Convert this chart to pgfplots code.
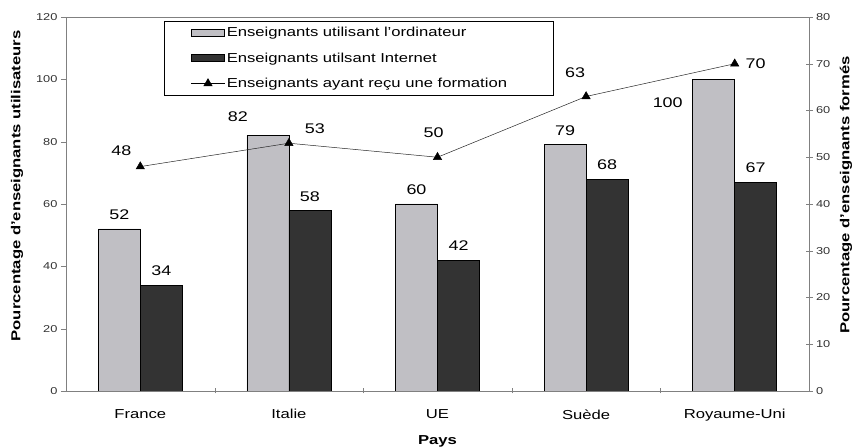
\documentclass[border=0pt]{standalone}
\usepackage{fontspec}
\setmainfont[FakeStretch=1.28]{Liberation Sans}
\usepackage{pgfplots}
\pgfplotsset{compat=1.18}
\usepackage{pgfplotstable}
\usetikzlibrary{calc}
\definecolor{cOrdi}{HTML}{C0BFC4}
\definecolor{cNet}{HTML}{333333}
\definecolor{cAxis}{HTML}{808080}

% x, value, label offset (dx, dy) in pt
\pgfplotstableread{
x y dx dy
0 52 0 14
1 82 -30 19
2 60 0 14
3 79 0 14
4 100 -46 -23
}\ordi
\pgfplotstableread{
x y dx dy
0 34 0 14
1 58 0 14
2 42 0 14
3 68 0 14
4 67 0 14
}\internet
\pgfplotstableread{
x y dx dy
0 48 -19 16
1 53 26 15
2 50 -4 25
3 63 -11 24
4 70 21 0
}\formation

\pgfplotsset{
  common/.style={
    scale only axis, width=743pt, height=374pt,
    xmin=-0.5, xmax=4.5,
    axis line style={draw=cAxis},
    tick style={draw=cAxis},
    tick label style={font=\fontsize{10}{12}\selectfont, text=black!80},
    /pgf/number format/assume math mode=true,
  },
  shifted labels/.style={
    nodes near coords,
    visualization depends on={\thisrow{dx} \as \dx},
    visualization depends on={\thisrow{dy} \as \dy},
    every node near coord/.append style={anchor=center, xshift=(\dx+#1)*1pt, yshift=\dy*1pt,
      font=\fontsize{14}{16}\selectfont, text=black},
  },
  box legend/.style={legend image code/.code={\draw[##1] (0pt,-3.5pt) rectangle (33pt,3.5pt);}},
  tri legend/.style={legend image code/.code={\draw[mark repeat=2, mark phase=2, ##1]
    plot coordinates {(0pt,0pt) (16.5pt,0pt) (33pt,0pt)};}},
}

\begin{document}
\begin{tikzpicture}
\begin{axis}[
  common, name=main,
  ymin=0, ymax=120, ytick={0,20,...,120}, ytick pos=left,
  ytick align=outside, xtick align=center,
  major tick length=5pt,
  xtick={0.5,1.5,2.5,3.5}, xticklabels={}, xtick pos=bottom,
  extra x ticks={0,1,2,3,4},
  extra x tick labels={France,Italie,UE,Suède,Royaume-Uni},
  extra x tick style={major tick length=0pt, tick label style={font=\fontsize{13}{15}\selectfont, text=black, yshift=-15pt}},
  xlabel={Pays},
  every axis x label/.style={at={(axis description cs:0.5,0)}, yshift=-50pt, anchor=center,
    font=\bfseries\fontsize{13}{15}\selectfont},
  ylabel={Pourcentage d'enseignants utilisateurs},
  every axis y label/.style={at={(axis description cs:0,0.5)}, xshift=-49pt, yshift=18pt,
    rotate=90, anchor=center, font=\bfseries\fontsize{13}{15}\selectfont},
  legend style={at={(0.1319,0.9893)}, anchor=north west, draw=black, fill=white,
    font=\fontsize{13}{15}\selectfont, row sep=10.5pt, inner xsep=27pt, inner ysep=4pt},
  legend cell align=left,
]
\addplot[ybar, bar width=42pt, bar shift=-21pt, fill=cOrdi, draw=black, line width=0.6pt,
  box legend, shifted labels=-21] table[x=x, y=y] {\ordi};
\addlegendentry{Enseignants utilisant l'ordinateur}
\addplot[ybar, bar width=42pt, bar shift=21pt, fill=cNet, draw=black, line width=0.6pt,
  box legend, shifted labels=21] table[x=x, y=y] {\internet};
\addlegendentry{Enseignants utilsant Internet}
\addlegendimage{black, line width=0.5pt, mark=triangle*, mark size=4.8pt, tri legend}
\addlegendentry{Enseignants ayant reçu une formation\hspace*{17pt}}
\end{axis}

\begin{axis}[
  common,
  ymin=0, ymax=80, ytick={0,10,...,80},
  axis y line*=right, axis x line=none,
  tick align=center, major tick length=7pt,
  ylabel={Pourcentage d'enseignants formés},
  every axis y label/.style={at={(axis description cs:1,0.5)}, xshift=37pt, yshift=9pt,
    rotate=90, anchor=center, font=\bfseries\fontsize{13}{15}\selectfont},
]
\addplot[black!85, line width=0.5pt, mark=triangle*, mark size=4.8pt,
  mark options={black}, shifted labels=0]
  table[x=x, y=y] {\formation};
\end{axis}

\pgfresetboundingbox
\path[use as bounding box] ($(main.south west)+(-66pt,-57pt)$) rectangle ($(main.north east)+(50pt,17pt)$);
\end{tikzpicture}
\end{document}
